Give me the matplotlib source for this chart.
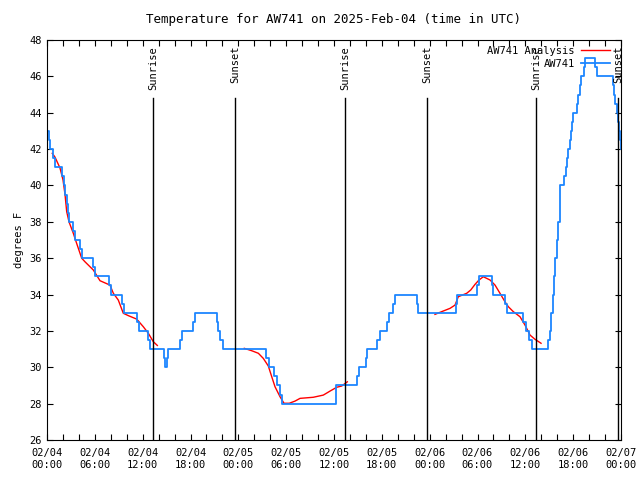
import numpy as np
import pandas as pd
import matplotlib
matplotlib.use('Agg')
import matplotlib.pyplot as plt
import matplotlib.dates as mdates

plt.rcParams['font.family'] = 'DejaVu Sans Mono'
plt.rcParams['font.size'] = 7.5

# ------ DATA (hours after 2025-02-04 00:00 UTC) ------
base = pd.Timestamp('2025-02-04 00:00')

obs_hours = [0.0, 0.25, 0.38, 0.79, 1.0, 1.84, 2.07, 2.32, 2.51, 2.63, 2.8, 3.3, 3.51,
             4.14, 4.35, 5.81, 6.08, 7.81, 8.03, 9.37, 9.6, 11.33, 11.54, 12.71, 12.98,
             14.68, 14.85, 15.0, 15.2, 16.68, 16.9, 18.35, 18.56, 21.29, 21.51, 21.76,
             22.08, 27.47, 27.85, 28.47, 28.81, 29.23, 29.44, 36.25, 38.92, 39.17,
             40.01, 40.1, 41.43, 41.77, 42.69, 42.94, 43.44, 43.65, 46.45, 46.58,
             51.27, 51.47, 53.98, 54.23, 55.78, 55.98, 57.45, 57.74, 59.75, 60.05,
             60.5, 60.8, 62.88, 63.1, 63.22, 63.41, 63.6, 63.78, 63.97, 64.16, 64.29,
             64.35, 64.89, 65.1, 65.23, 65.39, 65.6, 65.73, 65.85, 65.92, 66.44,
             66.65, 66.8, 66.95, 67.36, 67.49, 68.74, 68.95, 70.96, 71.12, 71.31,
             71.46, 71.62, 71.75, 71.87, 71.96, 72.0]
obs_temp = [43, 42.5, 42, 41.5, 41, 40.5, 40, 39.5, 39, 38.5, 38, 37.5, 37,
            36.5, 36, 35.5, 35, 34.5, 34, 33.5, 33, 32.5, 32, 31.5, 31,
            30.5, 30, 30.5, 31, 31.5, 32, 32.5, 33, 32.5, 32, 31.5,
            31, 30.5, 30, 29.5, 29, 28.5, 28, 29, 29.5, 30,
            30.5, 31, 31.5, 32, 32.5, 33, 33.5, 34, 33.5, 33,
            33.5, 34, 34.5, 35, 34.5, 34, 33.5, 33, 32.5, 32,
            31.5, 31, 31.5, 32, 33, 34, 35, 36, 37, 38, 39,
            40, 40.5, 41, 41.5, 42, 42.5, 43, 43.5, 44, 44.5,
            45, 45.5, 46, 46.5, 47, 46.5, 46, 45.5, 45, 44.5,
            44, 43.5, 43, 42.5, 42, 42]

ana1_hours = [0.66, 1.0, 1.63, 2.01, 2.26, 2.47, 2.76, 3.3, 3.73, 4.35, 4.77, 5.81, 6.65,
              7.9, 8.32, 8.94, 9.57, 10.2, 11.25, 12.08, 12.71, 13.33, 13.84]
ana1_temp = [41.77, 41.56, 40.96, 40.3, 39.5, 38.56, 38.0, 37.37, 36.8, 36.0, 35.8, 35.35,
             34.76, 34.52, 34.07, 33.7, 32.97, 32.84, 32.65, 32.23, 31.87, 31.41, 31.2]
ana2_hours = [24.75, 25.68, 26.51, 27.13, 27.76, 28.19, 28.6, 29.23, 29.73, 30.39, 31.11,
              31.74, 33.4, 34.66, 35.5, 36.34, 36.97, 37.67]
ana2_temp = [31.04, 30.91, 30.77, 30.49, 30.07, 29.48, 28.93, 28.38, 28.02, 28.02, 28.14,
             28.29, 28.35, 28.47, 28.69, 28.9, 28.97, 29.2]
ana3_hours = [48.67, 49.51, 50.55, 51.18, 51.59, 52.65, 53.15, 53.69, 54.19, 54.73, 55.57,
              56.2, 56.82, 57.45, 57.87, 58.49, 59.33, 59.96, 60.59, 61.21, 61.97]
ana3_temp = [32.91, 33.06, 33.24, 33.42, 33.88, 34.07, 34.25, 34.56, 34.8, 34.98, 34.8,
             34.52, 34.07, 33.6, 33.33, 33.06, 32.78, 32.32, 31.77, 31.54, 31.32]

sun_hours = [13.3, 23.58, 37.38, 47.67, 61.34, 71.63]
sun_labels = ['Sunrise', 'Sunset', 'Sunrise', 'Sunset', 'Sunrise', 'Sunset']

yticks = np.arange(26, 49, 2)


def to_time(hours):
    return base + pd.to_timedelta(hours, unit='h')


fig = plt.figure(figsize=(6.4, 4.8), dpi=100)
ax = fig.add_axes([47 / 640, 40 / 480, 574 / 640, 400 / 480])

blue = '#1c86ff'
ax.plot(to_time(ana1_hours), ana1_temp, color='red', lw=1, label='AW741 Analysis')
ax.plot(to_time(ana2_hours), ana2_temp, color='red', lw=1)
ax.plot(to_time(ana3_hours), ana3_temp, color='red', lw=1)
ax.plot(to_time(obs_hours), obs_temp, color=blue, lw=1.3, drawstyle='steps-post',
        label='AW741')

for h, lab in zip(sun_hours, sun_labels):
    t = to_time(h)
    ax.axvline(t, ymin=0, ymax=0.855, color='black', lw=1)
    ax.text(t, 0.985, lab, transform=ax.get_xaxis_transform(), rotation=90,
            ha='center', va='top')

ax.set_xlim(to_time(0), to_time(72))
ax.set_ylim(26, 48)
ax.set_yticks(yticks)
ax.xaxis.set_major_locator(mdates.HourLocator(byhour=range(0, 24, 6)))
ax.xaxis.set_minor_locator(mdates.HourLocator(byhour=range(0, 24, 2)))
ax.xaxis.set_major_formatter(mdates.DateFormatter('%m/%d\n%H:%M'))
ax.tick_params(which='both', direction='in', top=True, right=True, length=4, width=0.8)
ax.tick_params(axis='x', pad=6)
ax.set_ylabel('degrees F')
ax.set_title('Temperature for AW741 on 2025-Feb-04 (time in UTC)', pad=12)

ax.legend(loc='upper right', bbox_to_anchor=(1.0, 1.0125), frameon=False,
          markerfirst=False, handlelength=2.8, borderaxespad=0.65,
          labelspacing=0.3, handletextpad=0.6)

plt.savefig('out.png', dpi=100)
